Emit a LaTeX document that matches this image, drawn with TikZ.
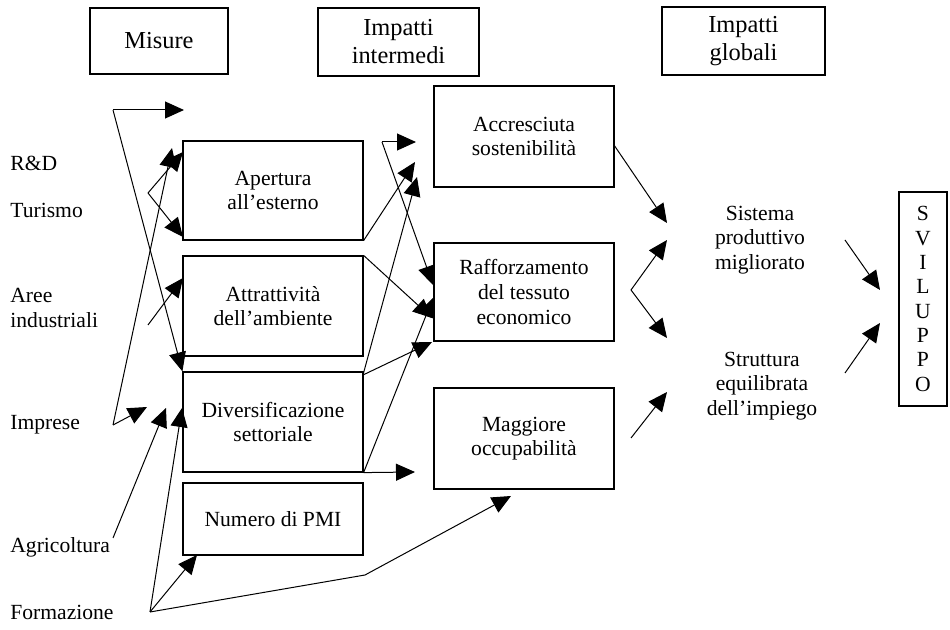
\documentclass[tikz,border=0pt]{standalone}
\usepackage{fontspec}
\setmainfont{Liberation Serif}
\usetikzlibrary{arrows.meta}
\begin{document}
\begin{tikzpicture}[x=0.5pt,y=-0.5pt,
  box/.style={draw,line width=0.6pt,align=center,inner sep=0pt,font=\fontsize{10.8}{12.3}\selectfont},
  head/.style={box,font=\fontsize{12.2}{14}\selectfont},
  lbl/.style={anchor=west,align=left,inner sep=0pt,font=\fontsize{10.8}{12.3}\selectfont},
  txt/.style={align=center,inner sep=0pt,font=\fontsize{10.8}{12.1}\selectfont},
  arr/.style={-{Triangle[length=9.5pt,width=8.5pt]},line width=0.5pt},
  ln/.style={line width=0.5pt}]
\useasboundingbox (0,0) rectangle (950,630);

% header boxes
\node[head,minimum width=69pt,minimum height=33pt] (misure) at (159,41) {Misure};
\node[head,minimum width=80.5pt,minimum height=34pt] (interm) at (398.5,42) {Impatti\\intermedi};
\node[head,minimum width=81.5pt,minimum height=34pt] (glob) at (743.5,41) {Impatti\\globali};

% measures
\node[box,minimum width=90pt,minimum height=49.5pt] (aper) at (273,190.5) {Apertura\\all'esterno};
\node[box,minimum width=90pt,minimum height=50pt] (attr) at (273,306) {Attrattività\\dell'ambiente};
\node[box,minimum width=90pt,minimum height=50pt] (divers) at (273,422) {Diversificazione\\settoriale};
\node[box,minimum width=90pt,minimum height=36pt] (numero) at (273,519) {Numero di PMI};

% intermediate impacts
\node[box,minimum width=90pt,minimum height=50.5pt] (accr) at (524,136.5) {Accresciuta\\sostenibilità};
\node[box,minimum width=90pt,minimum height=49pt] (raff) at (524,292) {Rafforzamento\\del tessuto\\economico};
\node[box,minimum width=90pt,minimum height=50.5pt] (magg) at (524,438.5) {Maggiore\\occupabilità};

% global impacts
\node[txt] (sist) at (760,240) {Sistema\\produttivo\\migliorato};
\node[txt] (strut) at (762,386) {Struttura\\equilibrata\\dell'impiego};
\node[box,minimum width=24pt,minimum height=107pt,font=\fontsize{10.8}{12.15}\selectfont] (svil) at (923,299) {S\\V\\I\\L\\U\\P\\P\\O};

% left labels
\node[lbl] (rd) at (10,163) {R\&D};
\node[lbl] (tur) at (10,210) {Turismo};
\node[lbl] (aree) at (10,308) {Aree\\industriali};
\node[lbl] (impr) at (10,425) {Imprese};
\node[lbl] (agri) at (10,547) {Agricoltura};
\node[lbl] (form) at (10,612) {Formazione};

% coordinates (fork vertices and free ends)
\coordinate (v1) at (113,110);
\coordinate (t1) at (184,110);
\coordinate (v2) at (148,193);
\coordinate (t2a) at (183,152);
\coordinate (t2b) at (183,237);
\coordinate (vi) at (113,425);
\coordinate (ti1) at (147,407);
\coordinate (ti2) at (172,148);
\coordinate (va) at (148,325);
\coordinate (ta) at (183,278);
\coordinate (vg) at (113,538);
\coordinate (tg) at (166,408);
\coordinate (vf) at (150,612);
\coordinate (tf1) at (182,408);
\coordinate (tf2) at (197,555);
\coordinate (bf) at (365,575);
\coordinate (tf3) at (511,496);

\coordinate (v3) at (382,142);
\coordinate (t3a) at (416,142);
\coordinate (t3b) at (433,285);
\coordinate (ap1) at (415,162);
\coordinate (dv1) at (363,375);
\coordinate (dt1) at (417,177);
\coordinate (dt2) at (432,342);
\coordinate (at1) at (432,318);
\coordinate (dt3) at (433,298);
\coordinate (dt4) at (415,472);

\coordinate (ac1) at (614,145);
\coordinate (ac2) at (667,223);
\coordinate (v4) at (631,290);
\coordinate (t4a) at (667,240);
\coordinate (t4b) at (667,338);
\coordinate (mg1) at (631,438);
\coordinate (mg2) at (667,392);
\coordinate (s1) at (845,240);
\coordinate (s2) at (880,290);
\coordinate (s3) at (845,373);
\coordinate (s4) at (880,323);

% left arrows
\draw[arr] (v1) -- (t1);
\draw[arr] (v1) -- (divers.north west);
\draw[arr] (v2) -- (t2a);
\draw[arr] (v2) -- (t2b);
\draw[arr] (vi) -- (ti1);
\draw[arr] (vi) -- (ti2);
\draw[arr] (va) -- (ta);
\draw[arr] (vg) -- (tg);
\draw[arr] (vf) -- (tf1);
\draw[arr] (vf) -- (tf2);
\draw[arr] (vf) -- (bf) -- (tf3);

% middle arrows
\draw[arr] (v3) -- (t3a);
\draw[arr] (v3) -- (t3b);
\draw[arr] (aper.south east) -- (ap1);
\draw[arr] (dv1) -- (dt1);
\draw[arr] (dv1) -- (dt2);
\draw[arr] (attr.north east) -- (at1);
\draw[arr] (divers.south east) -- (dt3);
\draw[arr] (divers.south east) -- (dt4);

% right arrows
\draw[arr] (ac1) -- (ac2);
\draw[arr] (v4) -- (t4a);
\draw[arr] (v4) -- (t4b);
\draw[arr] (mg1) -- (mg2);
\draw[arr] (s1) -- (s2);
\draw[arr] (s3) -- (s4);
\end{tikzpicture}
\end{document}
